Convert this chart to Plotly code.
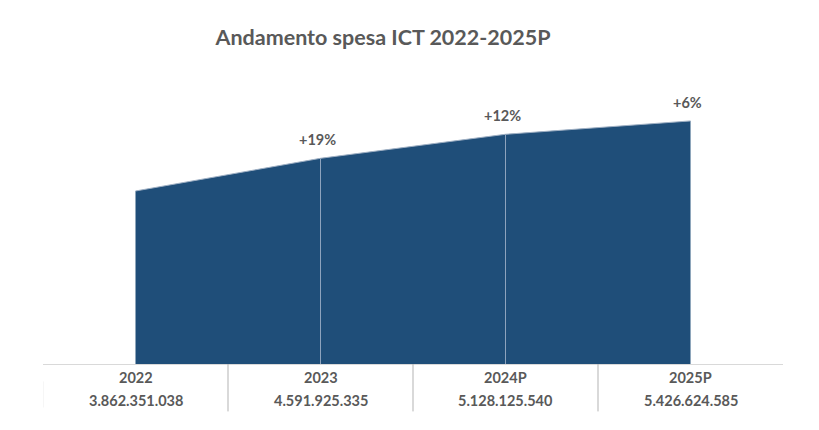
import plotly.graph_objects as go

years = ["2022", "2023", "2024P", "2025P"]
spend = [3862351038, 4591925335, 5128125540, 5426624585]
growth_labels = ["", "+19%", "+12%", "+6%"]

title_text = "Andamento spesa ICT 2022-2025P"
FONT = "Lato"
TXT = "#595959"
BLUE = "#1F4E79"

# page has an 8px body offset; compensate in layout
OFF = 8
W, H = 819, 430
M_L, M_R, M_T, M_B = 43 - OFF, W - 783 + OFF, 80 - OFF, H - 364.5 + OFF

x_idx = list(range(len(years)))

fig = go.Figure()
fig.add_trace(go.Scatter(
    x=x_idx, y=spend, mode="lines", fill="tozeroy",
    fillcolor=BLUE, line=dict(color="#9FB0C4", width=1),
    hoverinfo="skip", showlegend=False,
))

shapes = []
for i in x_idx[1:-1]:
    shapes.append(dict(type="line", xref="x", yref="y", x0=i, x1=i, y0=0, y1=spend[i],
                       line=dict(color="#8EA3BD", width=1), layer="above"))
plot_h = H - M_T - M_B
for i in x_idx[:-1]:
    shapes.append(dict(type="line", xref="x", yref="paper", x0=i + 0.5, x1=i + 0.5,
                       y0=0, y1=-47.5 / plot_h, line=dict(color="#B3B3B3", width=1)))
shapes.append(dict(type="line", xref="x", yref="paper", x0=-0.5, x1=-0.5,
                   y0=-17.5 / plot_h, y1=-43.5 / plot_h, line=dict(color="#EDEDED", width=1)))

annotations = []
for i, (yr, v) in enumerate(zip(years, spend)):
    annotations.append(dict(x=i, y=0, xref="x", yref="y", text=f"<b>{yr}</b>", showarrow=False,
                            yanchor="middle", yshift=-13.2,
                            font=dict(family=FONT, size=14.5, color=TXT)))
    annotations.append(dict(x=i, y=0, xref="x", yref="y", text=f"<b>{v:,}</b>".replace(",", "."),
                            showarrow=False, yanchor="middle", yshift=-36.2,
                            font=dict(family=FONT, size=14.5, color=TXT)))
    if growth_labels[i]:
        annotations.append(dict(x=i, y=v, xref="x", yref="y", text=f"<b>{growth_labels[i]}</b>",
                                showarrow=False, yanchor="middle", yshift=18.5, xshift=-3,
                                font=dict(family=FONT, size=14.5, color=TXT)))

fig.update_layout(
    width=W, height=H,
    margin=dict(l=M_L, r=M_R, t=M_T, b=M_B),
    paper_bgcolor="white", plot_bgcolor="white",
    title=dict(text=f"<b>{title_text}</b>", x=(383 - OFF) / W, xref="container", xanchor="center",
               y=1 - (37 - OFF) / H, yref="container", yanchor="middle",
               font=dict(family=FONT, size=21.5, color=TXT)),
    xaxis=dict(range=[-0.5, 3.5], showgrid=False, zeroline=False, showticklabels=False,
               ticks="", showline=True, linecolor="#D9D9D9", linewidth=1, fixedrange=True),
    yaxis=dict(range=[0, 6.34e9], showgrid=False, zeroline=False, showticklabels=False,
               ticks="", showline=False, fixedrange=True),
    shapes=shapes, annotations=annotations,
)

fig.write_html("out.html")
